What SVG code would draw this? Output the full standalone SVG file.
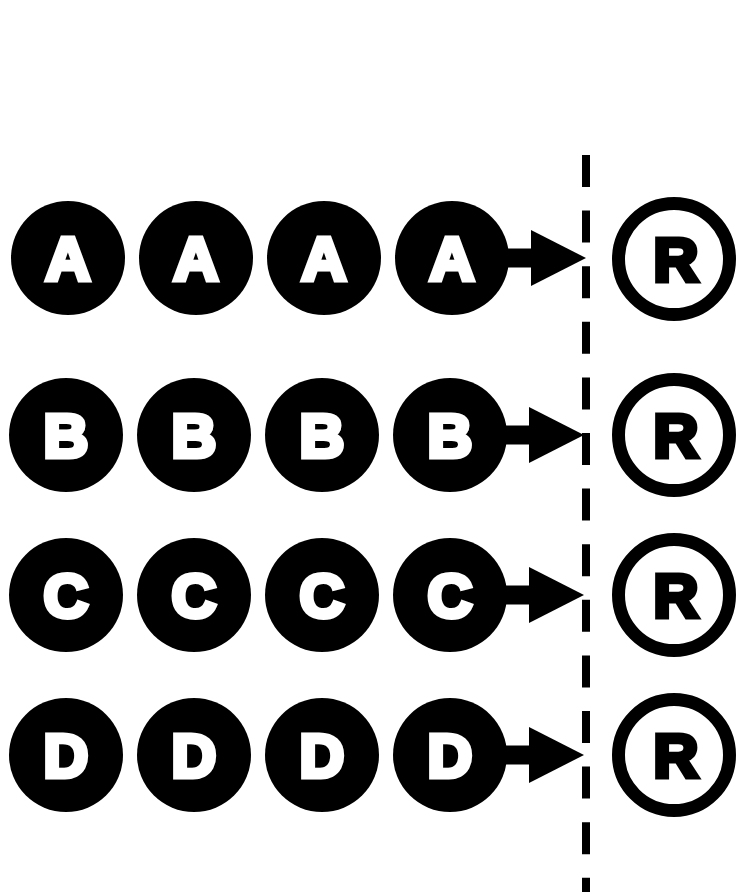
<svg xmlns="http://www.w3.org/2000/svg" width="737" height="892" viewBox="0 0 737 892">
<style>
.n{fill:#000}
.r{fill:#fff;stroke:#000;stroke-width:13}
.t{font-family:"Liberation Sans",Arial,sans-serif;font-weight:bold;font-size:62px;text-anchor:middle;fill:#fff;stroke:#fff;stroke-width:5;stroke-linejoin:miter}
.tr{font-family:"Liberation Sans",Arial,sans-serif;font-weight:bold;font-size:62px;text-anchor:middle;fill:#000;stroke:#000;stroke-width:5;stroke-linejoin:miter}
.c{stroke:#000;stroke-width:19;fill:none}
.d{stroke:#000;stroke-width:8;stroke-dasharray:32 23.6;fill:none}
</style>
<defs>
<marker id="ah" viewBox="0 0 55 56" refX="0" refY="28" markerWidth="55" markerHeight="56" markerUnits="userSpaceOnUse" orient="auto">
<path d="M0,0 L55,28 L0,56 Z" fill="#000"/>
</marker>
</defs>
<rect width="737" height="892" fill="#fff"/>
<g id="divider"><line class="d" x1="586" y1="155" x2="586" y2="892"/></g>
<g id="connectors">
<line class="c" x1="500" y1="258" x2="531" y2="258" marker-end="url(#ah)"/>
<line class="c" x1="498" y1="435" x2="529" y2="435" marker-end="url(#ah)"/>
<line class="c" x1="498" y1="595" x2="529" y2="595" marker-end="url(#ah)"/>
<line class="c" x1="498" y1="755" x2="529" y2="755" marker-end="url(#ah)"/>
</g>
<g id="A1"><circle class="n" cx="68" cy="258" r="57"/><text class="t" x="68" y="280">A</text></g>
<g id="A2"><circle class="n" cx="196" cy="258" r="57"/><text class="t" x="196" y="280">A</text></g>
<g id="A3"><circle class="n" cx="324" cy="258" r="57"/><text class="t" x="324" y="280">A</text></g>
<g id="A4"><circle class="n" cx="452" cy="258" r="57"/><text class="t" x="452" y="280">A</text></g>
<g id="B1"><circle class="n" cx="66" cy="435" r="57"/><text class="t" x="66" y="457">B</text></g>
<g id="B2"><circle class="n" cx="194" cy="435" r="57"/><text class="t" x="194" y="457">B</text></g>
<g id="B3"><circle class="n" cx="322" cy="435" r="57"/><text class="t" x="322" y="457">B</text></g>
<g id="B4"><circle class="n" cx="450" cy="435" r="57"/><text class="t" x="450" y="457">B</text></g>
<g id="C1"><circle class="n" cx="66" cy="595" r="57"/><text class="t" x="66" y="617">C</text></g>
<g id="C2"><circle class="n" cx="194" cy="595" r="57"/><text class="t" x="194" y="617">C</text></g>
<g id="C3"><circle class="n" cx="322" cy="595" r="57"/><text class="t" x="322" y="617">C</text></g>
<g id="C4"><circle class="n" cx="450" cy="595" r="57"/><text class="t" x="450" y="617">C</text></g>
<g id="D1"><circle class="n" cx="66" cy="755" r="57"/><text class="t" x="66" y="777">D</text></g>
<g id="D2"><circle class="n" cx="194" cy="755" r="57"/><text class="t" x="194" y="777">D</text></g>
<g id="D3"><circle class="n" cx="322" cy="755" r="57"/><text class="t" x="322" y="777">D</text></g>
<g id="D4"><circle class="n" cx="450" cy="755" r="57"/><text class="t" x="450" y="777">D</text></g>
<g id="R1"><circle class="r" cx="674" cy="259" r="55.5"/><text class="tr" x="676" y="281">R</text></g>
<g id="R2"><circle class="r" cx="674" cy="435" r="55.5"/><text class="tr" x="676" y="457">R</text></g>
<g id="R3"><circle class="r" cx="674" cy="595" r="55.5"/><text class="tr" x="676" y="617">R</text></g>
<g id="R4"><circle class="r" cx="674" cy="755" r="55.5"/><text class="tr" x="676" y="777">R</text></g>
</svg>
